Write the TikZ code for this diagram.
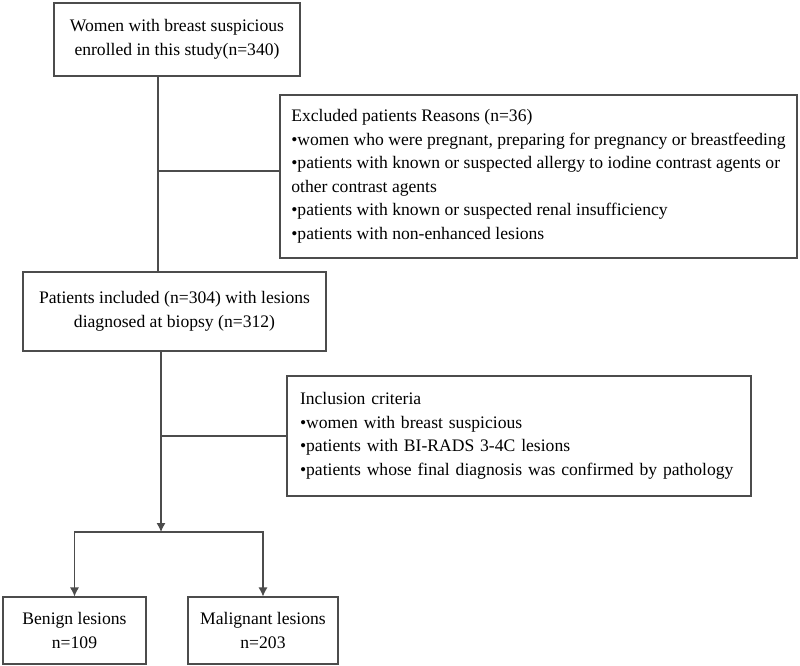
\documentclass[tikz,border=0pt]{standalone}
\usepackage{fontspec}
\setmainfont{Liberation Serif}
\usetikzlibrary{arrows.meta}

\begin{document}
\begin{tikzpicture}[x=1pt,y=-1pt,
	every node/.style={font=\fontsize{17.6}{23.5}\selectfont},
	box/.style={rectangle,draw=black!70,line width=1.1pt,align=center,inner sep=0pt},
	listbox/.style={rectangle,draw=black!70,line width=1.1pt,align=left,inner ysep=0pt},
	link/.style={draw=black!70,line width=1.1pt},
	tip/.style={-{Latex[length=9pt,width=9pt]}}]
		\useasboundingbox (0,0) rectangle (800,666);
		
		% boxes
		\node[box,minimum width=246pt,minimum height=73pt] (enrolled) at (177,39.5) {Women with breast suspicious\\enrolled in this study(n=340)};
		\node[listbox,inner xsep=0pt,minimum width=517pt,minimum height=163pt] (excluded) at (538.5,176.5) {Excluded patients Reasons (n=36)\\
			•women who were pregnant, preparing for pregnancy or breastfeeding\\
			•patients with known or suspected allergy to iodine contrast agents or\\
			other contrast agents\\
			•patients with known or suspected renal insufficiency\\
			•patients with non-enhanced lesions};
		\node[box,minimum width=303pt,minimum height=79pt] (included) at (174.5,311.5) {Patients included (n=304) with lesions\\diagnosed at biopsy (n=312)};
		\node[listbox,text width=438pt,inner xsep=13pt,minimum height=120pt] (criteria) at (519,436) {Inclusion criteria\\
			•women with breast suspicious\\
			•patients with BI-RADS 3-4C lesions\\
			•patients whose final diagnosis was confirmed by pathology};
		\node[box,minimum width=143pt,minimum height=67pt] (benign) at (74.5,630.5) {Benign lesions\\n=109};
		\node[box,minimum width=150pt,minimum height=67pt] (malignant) at (263,630.5) {Malignant lesions\\n=203};
		
		% connectors
		\coordinate (j1) at (158,171);
		\coordinate (j2) at (161,436);
		\coordinate (split) at (161,532);
		\draw[link] (enrolled.south -| j1) -- (included.north -| j1);
		\draw[link] (j1) -- (excluded.west |- j1);
		\draw[link,tip] (included.south -| j2) -- (split);
		\draw[link] (j2) -- (criteria.west |- j2);
		\draw[link,tip] (split) -| (benign.north);
		\draw[link,tip] (split) -| (malignant.north);
		
\end{tikzpicture}
\end{document}
